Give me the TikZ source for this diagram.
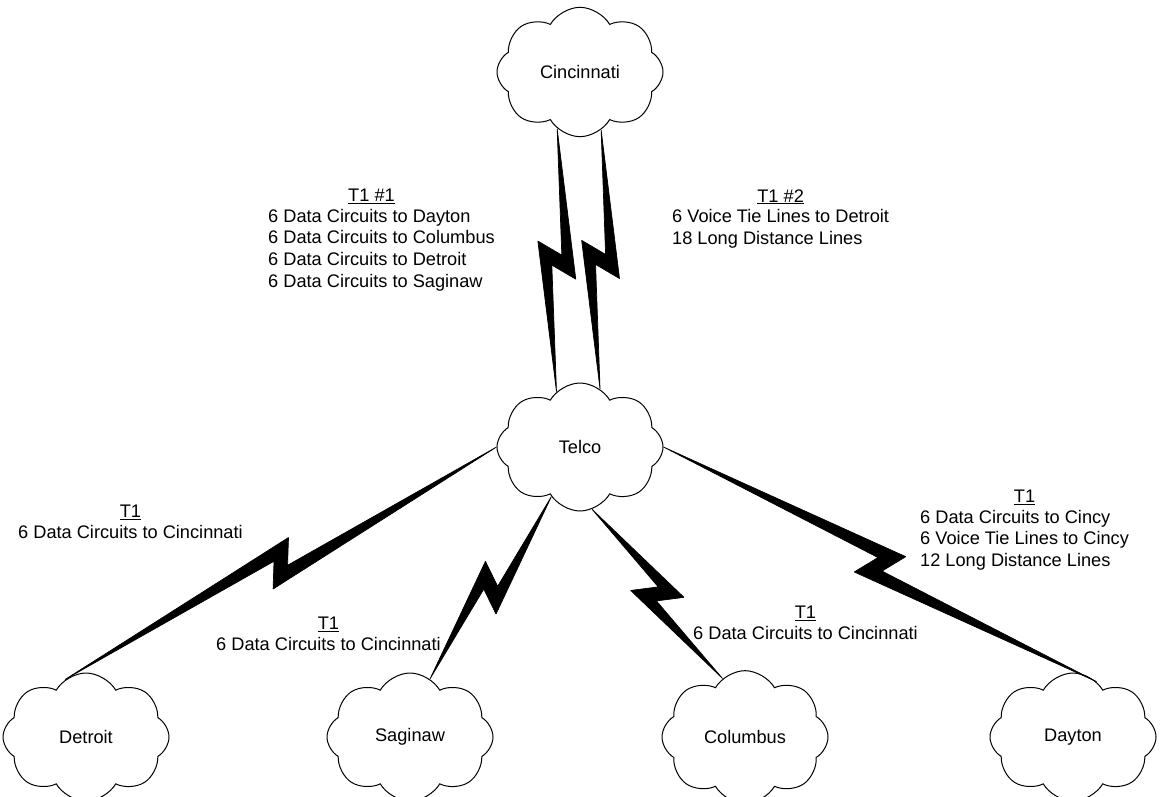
\documentclass[tikz,border=0pt]{standalone}
\usepackage{fontspec}
\setmainfont{Liberation Sans}
\usetikzlibrary{shapes.symbols, positioning, calc}

\begin{document}
\begin{tikzpicture}[x=1pt, y=-1pt,
    site/.style={cloud, cloud puffs=8, cloud puff arc=120, draw, line width=1pt, minimum width=166pt, minimum height=128pt, inner sep=0pt, font=\fontsize{18.2}{21.7}\selectfont},
    info/.style={align=left, inner sep=0pt, font=\fontsize{18.2}{21.7}\selectfont},
    tag/.style={inner sep=0pt, font=\fontsize{18.2}{21.7}\selectfont},
    bolt/.style={fill=black, draw=black, line width=0.7pt, line join=bevel}]
    \useasboundingbox (0,0) rectangle (1161,797);

    % Sites
    \node[site] (cinci) at (580,72) {Cincinnati};
    \node[site] (telco) at (580,447) {Telco};
    \node[site] (detroit) at (86,737) {Detroit};
    \node[site] (saginaw) at (410,737) {Saginaw};
    \node[site] (columbus) at (745,737) {Columbus};
    \node[site] (dayton) at (1073,737) {Dayton};

    % T1 links
    \foreach \src/\dst in {cinci.248/telco.113, cinci.290/telco.71, telco.180/detroit.110,
                           telco.240/saginaw.71, telco.281/columbus.111, telco.0/dayton.67} {
        \coordinate (m) at ($(\src)!0.5!(\dst)$);
        \filldraw[bolt] (\src)
            -- ($($(m)!19pt!(\dst)$)!19pt!90:(\dst)$)
            -- ($($(m)!5pt!(\dst)$)!5pt!-90:(\dst)$)
            -- (\dst)
            -- ($($(m)!19pt!(\src)$)!19pt!-90:(\dst)$)
            -- ($($(m)!5pt!(\src)$)!5pt!90:(\dst)$)
            -- cycle;
    }

    % Link contents
    \node[info, anchor=west] (lnka) at (268,250) {6 Data Circuits to Dayton\\6 Data Circuits to Columbus\\6 Data Circuits to Detroit\\6 Data Circuits to Saginaw};
    \node[tag, above=5pt of lnka, xshift=-10pt] (taga) {\underline{T1 \#1}};

    \node[info, anchor=west] (lnkb) at (672,229) {6 Voice Tie Lines to Detroit\\18 Long Distance Lines};
    \node[tag, above=5pt of lnkb] (tagb) {\underline{T1 \#2}};

    \node[info, anchor=west] (lnkdet) at (18,532) {6 Data Circuits to Cincinnati};
    \node[tag, above=5pt of lnkdet] (tagdet) {\underline{T1}};

    \node[info, anchor=west] (lnksag) at (216,644) {6 Data Circuits to Cincinnati};
    \node[tag, above=5pt of lnksag] (tagsag) {\underline{T1}};

    \node[info, anchor=west] (lnkcol) at (693,633) {6 Data Circuits to Cincinnati};
    \node[tag, above=5pt of lnkcol] (tagcol) {\underline{T1}};

    \node[info, anchor=west] (lnkday) at (920,540) {6 Data Circuits to Cincy\\6 Voice Tie Lines to Cincy\\12 Long Distance Lines};
    \node[tag, above=5pt of lnkday] (tagday) {\underline{T1}};
\end{tikzpicture}
\end{document}
